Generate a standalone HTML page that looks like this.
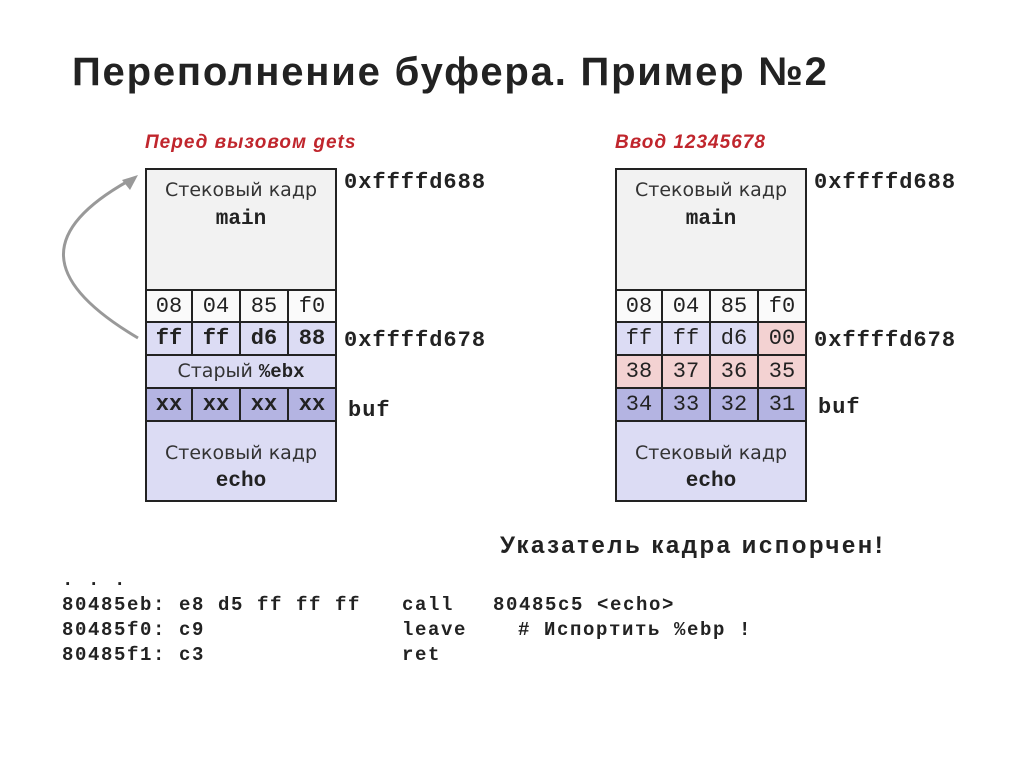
<!DOCTYPE html>
<html><head><meta charset="utf-8"><style>
body{margin:0;width:1024px;height:767px;background:#fff;position:relative;overflow:hidden;font-family:"Liberation Sans","DejaVu Sans",sans-serif}
.a{position:absolute}
.t{left:72px;top:50px;font-size:40px;font-weight:bold;color:#222;letter-spacing:1.8px}
.red{color:#c0262d;font-style:italic;font-weight:bold;font-size:19px;letter-spacing:1px}
.m{font-family:"Liberation Mono",monospace;font-weight:bold}
.cell{position:absolute;box-sizing:border-box;border:2px solid #222;text-align:center;font-family:"Liberation Mono",monospace;font-size:22px;color:#222}
.lbl{font-family:"DejaVu Sans",sans-serif;font-size:19px;color:#333;text-align:center;position:absolute;width:100%}
.addr{font-family:"Liberation Mono",monospace;font-weight:bold;font-size:22px;color:#222;letter-spacing:1px}
.code{font-family:"Liberation Mono",monospace;font-weight:bold;font-size:19px;color:#222;white-space:pre;letter-spacing:1.6px}
</style></head><body>
<div class="a t">Переполнение буфера. Пример №2</div>
<div class="a red" style="left:145px;top:132px">Перед вызовом gets</div>
<div class="a red" style="left:615px;top:132px">Ввод 12345678</div>

<svg class="a" style="left:0;top:0" width="1024" height="767">
<path d="M138,338 C40,280 40,230 130,180" fill="none" stroke="#999" stroke-width="3"/>
<polygon points="138,175 122,180 130,190" fill="#999"/>
</svg>

<div id="L"></div>
<script>
function stack(x,rows){
 let h='';
 h+=`<div class="cell" style="left:${x}px;top:168px;width:192px;height:123px;background:#f2f2f2"><div class="lbl" style="top:9px">Стековый кадр</div><div class="lbl" style="top:38px;font-family:'Liberation Mono',monospace;font-weight:bold;font-size:21px;color:#222">main</div></div>`;
 const tops=[289,321,354,387];
 rows.forEach((r,i)=>{
  if(r.full){h+=`<div class="cell" style="left:${x}px;top:${tops[i]}px;width:192px;height:35px;background:${r.bg};font-family:'DejaVu Sans',sans-serif;font-size:19px;line-height:31px;color:#333">Старый <span class="m" style="color:#222">%ebx</span></div>`;return;}
  r.v.forEach((v,j)=>{h+=`<div class="cell" style="left:${x+j*48-(j?2:0)}px;top:${tops[i]}px;width:${j?50:48}px;height:35px;background:${r.bg[j]};line-height:31px;${r.b?'font-weight:bold':''}">${v}</div>`;});
 });
 h+=`<div class="cell" style="left:${x}px;top:420px;width:192px;height:82px;background:#dcdcf4"><div class="lbl" style="top:20px">Стековый кадр</div><div class="lbl" style="top:48px;font-family:'Liberation Mono',monospace;font-weight:bold;font-size:21px;color:#222">echo</div></div>`;
 return h;
}
const W='#fafafa',B='#dcdcf4',D='#b4b4e2',P='#f3d2d2';
let h=stack(145,[{v:['08','04','85','f0'],bg:[W,W,W,W]},{v:['ff','ff','d6','88'],bg:[B,B,B,B],b:1},{full:1,bg:B},{v:['xx','xx','xx','xx'],bg:[D,D,D,D],b:1}]);
h+=stack(615,[{v:['08','04','85','f0'],bg:[W,W,W,W]},{v:['ff','ff','d6','00'],bg:[B,B,B,P]},{v:['38','37','36','35'],bg:[P,P,P,P]},{v:['34','33','32','31'],bg:[D,D,D,D]}]);
document.getElementById('L').innerHTML=h;
</script>
<div class="a addr" style="left:344px;top:170px">0xffffd688</div>
<div class="a addr" style="left:344px;top:328px">0xffffd678</div>
<div class="a addr" style="left:348px;top:398px">buf</div>
<div class="a addr" style="left:814px;top:170px">0xffffd688</div>
<div class="a addr" style="left:814px;top:328px">0xffffd678</div>
<div class="a addr" style="left:818px;top:395px">buf</div>
<div class="a" style="left:500px;top:532px;font-size:24px;font-weight:bold;color:#222;letter-spacing:2.5px">Указатель кадра испорчен!</div>
<div class="a code" style="left:62px;top:569px">. . .</div>
<div class="a code" style="left:62px;top:594px">80485eb: e8 d5 ff ff ff</div>
<div class="a code" style="left:62px;top:619px">80485f0: c9</div>
<div class="a code" style="left:62px;top:644px">80485f1: c3</div>
<div class="a code" style="left:402px;top:594px">call</div>
<div class="a code" style="left:493px;top:594px">80485c5 &lt;echo&gt;</div>
<div class="a code" style="left:402px;top:619px">leave</div>
<div class="a code" style="left:518px;top:619px"># Испортить %ebp !</div>
<div class="a code" style="left:402px;top:644px">ret</div>
</body></html>
